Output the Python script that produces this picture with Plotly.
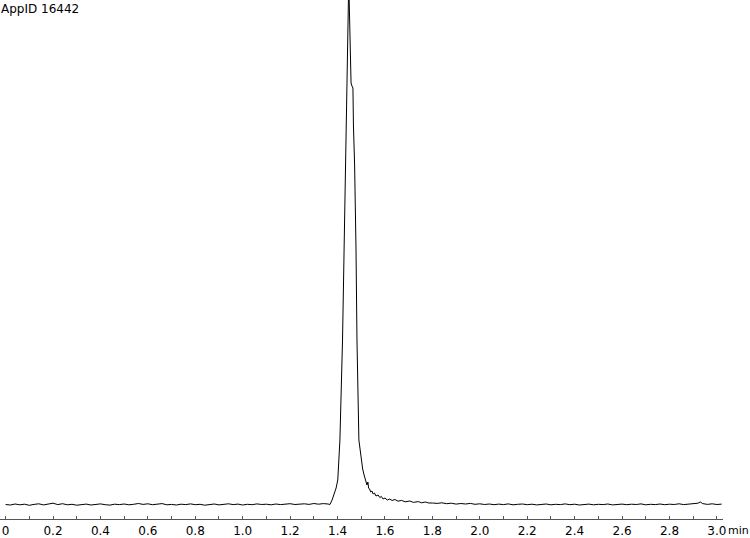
import plotly.graph_objects as go

# sampling times (min) and detector signal (arbitrary units, baseline = 0)
t_front = [0.00, 0.02, 0.04, 0.06, 0.08, 0.10, 0.12, 0.14, 0.16, 0.18,
           0.20, 0.22, 0.24, 0.26, 0.28, 0.30, 0.32, 0.34, 0.36, 0.38,
           0.40, 0.42, 0.44, 0.46, 0.48, 0.50, 0.52, 0.54, 0.56, 0.58,
           0.60, 0.62, 0.64, 0.66, 0.68, 0.70, 0.72, 0.74, 0.76, 0.78,
           0.80, 0.82, 0.84, 0.86, 0.88, 0.90, 0.92, 0.94, 0.96, 0.98,
           1.00, 1.02, 1.04, 1.06, 1.08, 1.10, 1.12, 1.14, 1.16, 1.18,
           1.20, 1.22, 1.24, 1.26, 1.28, 1.30, 1.32, 1.34, 1.36]
y_front = [0.5, 0.0, 1.0, 0.2, 0.8, -0.3, 0.6, 1.2, 0.1, 0.9,
           1.8, 0.4, 1.3, 0.2, 0.7, -0.2, 0.5, 0.9, 0.0, 0.6,
           1.1, 0.3, -0.1, 0.8, 0.4, 1.0, 0.2, 0.7, 1.5, 0.6,
           1.2, 0.3, 0.9, 1.4, 0.2, 0.6, 0.0, 0.8, 0.4, 1.1,
           0.3, 0.7, -0.2, 0.5, 1.0, 0.1, 0.6, 1.2, 0.4, 0.9,
           0.0, 0.7, 0.3, 1.1, 0.5, 0.8, 0.2, 1.0, 0.4, 0.6,
           1.3, 0.5, 0.9, 1.2, 0.6, 1.5, 0.8, 1.4, 1.0]

t_peak = [1.368, 1.377, 1.385, 1.394, 1.401, 1.410, 1.421, 1.427, 1.434,
          1.438, 1.443, 1.446, 1.449, 1.452, 1.457, 1.461, 1.465, 1.467,
          1.472, 1.478, 1.482, 1.490, 1.499, 1.506, 1.512, 1.516, 1.520,
          1.524, 1.528, 1.531, 1.535, 1.540, 1.545, 1.550, 1.556, 1.562,
          1.571, 1.578, 1.585, 1.592, 1.600, 1.610, 1.620, 1.630, 1.642,
          1.655, 1.670, 1.685, 1.705, 1.720, 1.740, 1.755, 1.770, 1.785]
y_peak = [0.5, 5.0, 10.0, 17.0, 25.0, 65.0, 165.0, 255.0, 355.0,
          405.0, 455.0, 506.0, 506.0, 475.0, 422.0, 419.0, 417.0, 380.0,
          340.0, 255.0, 165.0, 65.0, 45.0, 36.0, 30.0, 27.0, 24.0,
          20.0, 23.0, 17.0, 16.0, 13.0, 14.0, 11.0, 12.0, 9.0,
          10.0, 7.5, 8.5, 6.0, 7.0, 5.0, 6.0, 4.5, 5.5,
          3.8, 4.6, 3.2, 4.0, 2.6, 3.4, 2.2, 3.0, 2.0]

t_tail = [1.80, 1.82, 1.84, 1.86, 1.88, 1.90, 1.92, 1.94, 1.96, 1.98,
          2.00, 2.02, 2.04, 2.06, 2.08, 2.10, 2.12, 2.14, 2.16, 2.18,
          2.20, 2.22, 2.24, 2.26, 2.28, 2.30, 2.32, 2.34, 2.36, 2.38,
          2.40, 2.42, 2.44, 2.46, 2.48, 2.50, 2.52, 2.54, 2.56, 2.58,
          2.60, 2.62, 2.64, 2.66, 2.68, 2.70, 2.72, 2.74, 2.76, 2.78,
          2.80, 2.82, 2.84, 2.86, 2.88, 2.90, 2.92, 2.93, 2.94, 2.96,
          2.98, 3.00, 3.02]
y_tail = [2.0, 1.6, 2.2, 1.3, 1.8, 0.9, 1.5, 1.0, 1.6, 0.7,
          1.2, 0.5, 1.0, 0.3, 0.9, 0.4, 1.1, 0.2, 0.7, 1.0,
          0.3, 0.8, 0.1, 0.6, 1.0, 0.2, 0.7, 0.4, 1.1, 0.3,
          0.8, 0.0, 0.6, 0.9, 0.2, 0.7, 0.4, 1.0, 0.1, 0.6,
          0.9, 0.3, 0.8, 0.5, 1.1, 0.2, 0.7, 0.4, 1.0, 0.3,
          0.8, 0.5, 1.2, 0.4, 0.9, 1.3, 1.8, 3.0, 1.4, 0.6,
          1.2, 0.5, 0.9]

t = t_front + t_peak + t_tail
y = y_front + y_peak + y_tail

fig = go.Figure()
fig.add_trace(go.Scatter(x=t, y=y, mode="lines",
                         line=dict(color="#000000", width=1),
                         hoverinfo="x+y"))

fig.update_layout(
    width=750, height=538,
    margin=dict(l=0, r=27, t=0, b=19),
    paper_bgcolor="white", plot_bgcolor="white",
    font=dict(family="DejaVu Sans, Verdana, sans-serif", size=12, color="#000000"),
    showlegend=False,
    xaxis=dict(
        range=[-0.0236, 3.0257],
        tickvals=[0.0, 0.2, 0.4, 0.6, 0.8, 1.0, 1.2, 1.4, 1.6, 1.8,
                  2.0, 2.2, 2.4, 2.6, 2.8, 3.0],
        ticktext=["0", "0.2", "0.4", "0.6", "0.8", "1.0", "1.2", "1.4", "1.6",
                  "1.8", "2.0", "2.2", "2.4", "2.6", "2.8", "3.0"],
        ticks="inside", ticklen=3, tickcolor="#555555",
        minor=dict(dtick=0.1, ticks="inside", ticklen=3, tickcolor="#555555"),
        showline=True, linecolor="#555555", linewidth=1,
        showgrid=False, zeroline=False,
        tickfont=dict(size=12), ticklabelstandoff=1,
    ),
    yaxis=dict(range=[-14, 505], visible=False, showgrid=False, zeroline=False),
    annotations=[
        dict(text="AppID 16442", x=0, y=1, xref="paper", yref="paper",
             xanchor="left", yanchor="top", showarrow=False,
             font=dict(size=12), xshift=-1),
        dict(text="min", x=1, y=0, xref="paper", yref="paper",
             xanchor="left", yanchor="middle", showarrow=False,
             font=dict(size=11), xshift=3, yshift=-11),
    ],
)

# remove the default page margin so the figure sits at the window corner
fig.write_html("out.html",
               config={"displayModeBar": False},
               post_script="document.body.style.margin='0';")
